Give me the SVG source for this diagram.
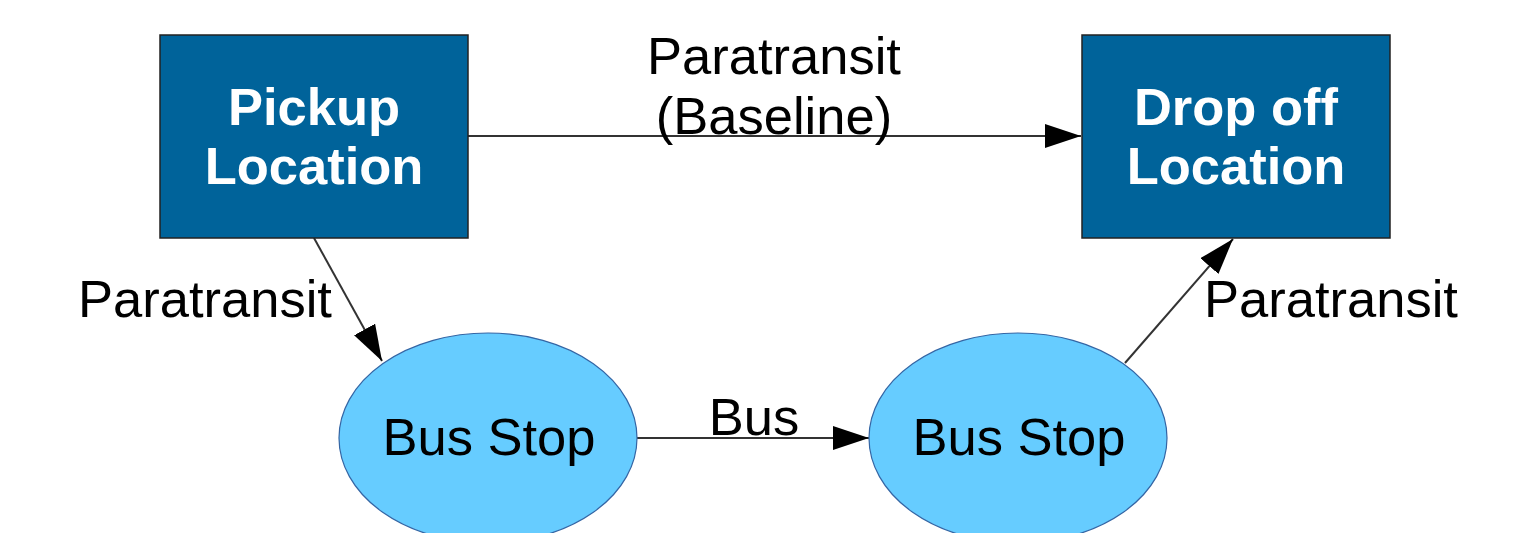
<svg xmlns="http://www.w3.org/2000/svg" width="1513" height="533" viewBox="0 0 1513 533">
  <style>
    .loc { fill: #00639a; stroke: #222; stroke-width: 1.5; }
    .stop { fill: #66ccff; stroke: #3465a4; stroke-width: 1.2; }
    .loc-text { font-family: "Liberation Sans", Arial, sans-serif; font-size: 52.5px; font-weight: bold; fill: #ffffff; text-anchor: middle; }
    .stop-text { font-family: "Liberation Sans", Arial, sans-serif; font-size: 52.5px; fill: #000; text-anchor: middle; }
    .edge { stroke: #333; stroke-width: 2; fill: none; marker-end: url(#arrow); }
    .label { font-family: "Liberation Sans", Arial, sans-serif; font-size: 52.5px; fill: #000; }
  </style>
  <defs>
    <marker id="arrow" markerUnits="userSpaceOnUse" markerWidth="38" markerHeight="26" refX="36" refY="12" orient="auto">
      <path d="M0,0 L36,12 L0,24 Z" fill="#000"/>
    </marker>
  </defs>
  <rect width="1513" height="533" fill="#ffffff"/>

  <g id="connectors">
    <line class="edge" x1="468" y1="136" x2="1081" y2="136"/>
    <line class="edge" x1="314" y1="238" x2="382" y2="361"/>
    <line class="edge" x1="637" y1="438" x2="869" y2="438"/>
    <line class="edge" x1="1125" y1="363" x2="1233" y2="239"/>
    <text class="label" x="774" y="74" text-anchor="middle">Paratransit</text>
    <text class="label" x="774" y="134" text-anchor="middle">(Baseline)</text>
    <text class="label" x="205" y="317" text-anchor="middle">Paratransit</text>
    <text class="label" x="1331" y="317" text-anchor="middle">Paratransit</text>
    <text class="label" x="754" y="435" text-anchor="middle">Bus</text>
  </g>

  <g id="pickup">
    <rect class="loc" x="160" y="35" width="308" height="203"/>
    <text class="loc-text" x="314" y="125">Pickup</text>
    <text class="loc-text" x="314" y="184">Location</text>
  </g>

  <g id="dropoff">
    <rect class="loc" x="1082" y="35" width="308" height="203"/>
    <text class="loc-text" x="1236" y="125">Drop off</text>
    <text class="loc-text" x="1236" y="184">Location</text>
  </g>

  <g id="stop-a">
    <ellipse class="stop" cx="488" cy="438" rx="149" ry="105"/>
    <text class="stop-text" x="489" y="455">Bus Stop</text>
  </g>

  <g id="stop-b">
    <ellipse class="stop" cx="1018" cy="438" rx="149" ry="105"/>
    <text class="stop-text" x="1019" y="455">Bus Stop</text>
  </g>
</svg>
